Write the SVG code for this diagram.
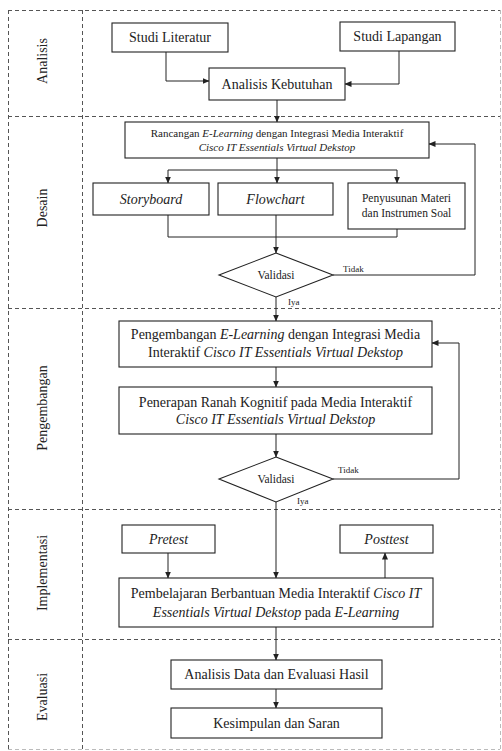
<svg xmlns="http://www.w3.org/2000/svg" width="502" height="751" viewBox="0 0 502 751" font-family="'Liberation Serif', 'DejaVu Serif', 'Times New Roman', serif">
<style>
text{font-family:'Liberation Serif','DejaVu Serif','Times New Roman',serif;fill:#222;}
.box{fill:#fff;stroke:#222;stroke-width:1.1;}
.lane{stroke:#555;stroke-width:1;stroke-dasharray:4 3;fill:none;}
.lanef{stroke:#bbb;stroke-width:1;stroke-dasharray:4 3;fill:none;}
.c{fill:none;stroke:#222;stroke-width:1;}
.t14{font-size:14px;text-anchor:middle;}
.t11{font-size:11px;text-anchor:middle;}
.t115{font-size:11.5px;text-anchor:middle;}
.lbl{font-size:9px;}
.ll{font-size:14px;text-anchor:middle;}
</style>
<defs>
<marker id="ah" markerWidth="7" markerHeight="6" refX="6.5" refY="3" orient="auto" markerUnits="userSpaceOnUse">
<path d="M0,0 L7,3 L0,6 z" fill="#222"/>
</marker>
</defs>
<rect width="502" height="751" fill="#fff"/>
<g id="lanes">
<path class="lane" d="M8,10.5 H500 M8,116.5 H500 M8,308.5 H500 M8,509.5 H500 M8,639.5 H500 M8.5,10 V750 M82.5,10 V750"/>
<path class="lanef" d="M500.5,10 V750 M8,749.5 H500"/>
<text class="ll" transform="translate(47,61) rotate(-90)">Analisis</text>
<text class="ll" transform="translate(47,208) rotate(-90)">Desain</text>
<text class="ll" transform="translate(47,408) rotate(-90)">Pengembangan</text>
<text class="ll" transform="translate(47,573) rotate(-90)">Implementasi</text>
<text class="ll" transform="translate(47,697) rotate(-90)">Evaluasi</text>
</g>
<g id="connectors">
<path class="c" d="M166,52 V81 H209" marker-end="url(#ah)"/>
<path class="c" d="M399,51 V84 H345" marker-end="url(#ah)"/>
<path class="c" d="M277,100 V122" marker-end="url(#ah)"/>
<path class="c" d="M277,158 V183" marker-end="url(#ah)"/>
<path class="c" d="M168,170 H397"/>
<path class="c" d="M168,170 V183" marker-end="url(#ah)"/>
<path class="c" d="M397,170 V183" marker-end="url(#ah)"/>
<path class="c" d="M168,215 V237 H397 V229"/>
<path class="c" d="M276,215 V253" marker-end="url(#ah)"/>
<path class="c" d="M333,275 H475 V144 H429" marker-end="url(#ah)"/>
<path class="c" d="M276,297 V321" marker-end="url(#ah)"/>
<path class="c" d="M276,367 V387" marker-end="url(#ah)"/>
<path class="c" d="M276,434 V457" marker-end="url(#ah)"/>
<path class="c" d="M333,479 H459 V343 H432" marker-end="url(#ah)"/>
<path class="c" d="M276,502 V578" marker-end="url(#ah)"/>
<path class="c" d="M168,553 V578" marker-end="url(#ah)"/>
<path class="c" d="M385,578 V553" marker-end="url(#ah)"/>
<path class="c" d="M276,627 V660" marker-end="url(#ah)"/>
<path class="c" d="M276,689 V708" marker-end="url(#ah)"/>
<text class="lbl" x="343" y="272">Tidak</text>
<text class="lbl" x="288" y="305">Iya</text>
<text class="lbl" x="338" y="473">Tidak</text>
<text class="lbl" x="297" y="504">Iya</text>
</g>
<g id="studi-literatur">
<rect class="box" x="112" y="23" width="116" height="29"/>
<text class="t14" x="170" y="42">Studi Literatur</text>
</g>
<g id="studi-lapangan">
<rect class="box" x="340" y="22" width="115" height="29"/>
<text class="t14" x="397.5" y="41">Studi Lapangan</text>
</g>
<g id="analisis-kebutuhan">
<rect class="box" x="209" y="68" width="136" height="32"/>
<text class="t14" x="277" y="89">Analisis Kebutuhan</text>
</g>
<g id="rancangan">
<rect class="box" x="125" y="122" width="304" height="36"/>
<text class="t11" x="277" y="137">Rancangan <tspan font-style="italic">E-Learning</tspan> dengan Integrasi Media Interaktif</text>
<text class="t11" x="277" y="151" font-style="italic">Cisco IT Essentials Virtual Dekstop</text>
</g>
<g id="storyboard">
<rect class="box" x="93" y="183" width="116" height="32"/>
<text class="t14" x="151" y="204" font-style="italic">Storyboard</text>
</g>
<g id="flowchart">
<rect class="box" x="218" y="183" width="115" height="32"/>
<text class="t14" x="275.5" y="204" font-style="italic">Flowchart</text>
</g>
<g id="penyusunan">
<rect class="box" x="348" y="183" width="117" height="46"/>
<text class="t115" x="406.5" y="202">Penyusunan Materi</text>
<text class="t115" x="406.5" y="217">dan Instrumen Soal</text>
</g>
<g id="validasi-1">
<polygon class="box" points="276,253 333,275 276,297 219,275"/>
<text class="t115" x="276" y="279">Validasi</text>
</g>
<g id="pengembangan">
<rect class="box" x="119" y="321" width="313" height="46"/>
<text class="t14" x="275.5" y="339">Pengembangan <tspan font-style="italic">E-Learning</tspan> dengan Integrasi Media</text>
<text class="t14" x="275.5" y="357">Interaktif <tspan font-style="italic">Cisco IT Essentials Virtual Dekstop</tspan></text>
</g>
<g id="penerapan">
<rect class="box" x="119" y="387" width="313" height="47"/>
<text class="t14" x="275.5" y="407">Penerapan Ranah Kognitif pada Media Interaktif</text>
<text class="t14" x="275.5" y="424" font-style="italic">Cisco IT Essentials Virtual Dekstop</text>
</g>
<g id="validasi-2">
<polygon class="box" points="276,457 333,479 276,502 219,479"/>
<text class="t115" x="276" y="483">Validasi</text>
</g>
<g id="pretest">
<rect class="box" x="122" y="525" width="93" height="28"/>
<text class="t14" x="168.5" y="544" font-style="italic">Pretest</text>
</g>
<g id="posttest">
<rect class="box" x="340" y="525" width="93" height="28"/>
<text class="t14" x="386.5" y="544" font-style="italic">Posttest</text>
</g>
<g id="pembelajaran">
<rect class="box" x="119" y="578" width="314" height="49"/>
<text class="t14" x="276" y="598">Pembelajaran Berbantuan Media Interaktif <tspan font-style="italic">Cisco IT</tspan></text>
<text class="t14" x="276" y="617"><tspan font-style="italic">Essentials Virtual Dekstop</tspan> pada <tspan font-style="italic">E-Learning</tspan></text>
</g>
<g id="analisis-data">
<rect class="box" x="171" y="660" width="211" height="29"/>
<text class="t14" x="276.5" y="679">Analisis Data dan Evaluasi Hasil</text>
</g>
<g id="kesimpulan">
<rect class="box" x="171" y="708" width="211" height="30"/>
<text class="t14" x="276.5" y="728">Kesimpulan dan Saran</text>
</g>
</svg>
